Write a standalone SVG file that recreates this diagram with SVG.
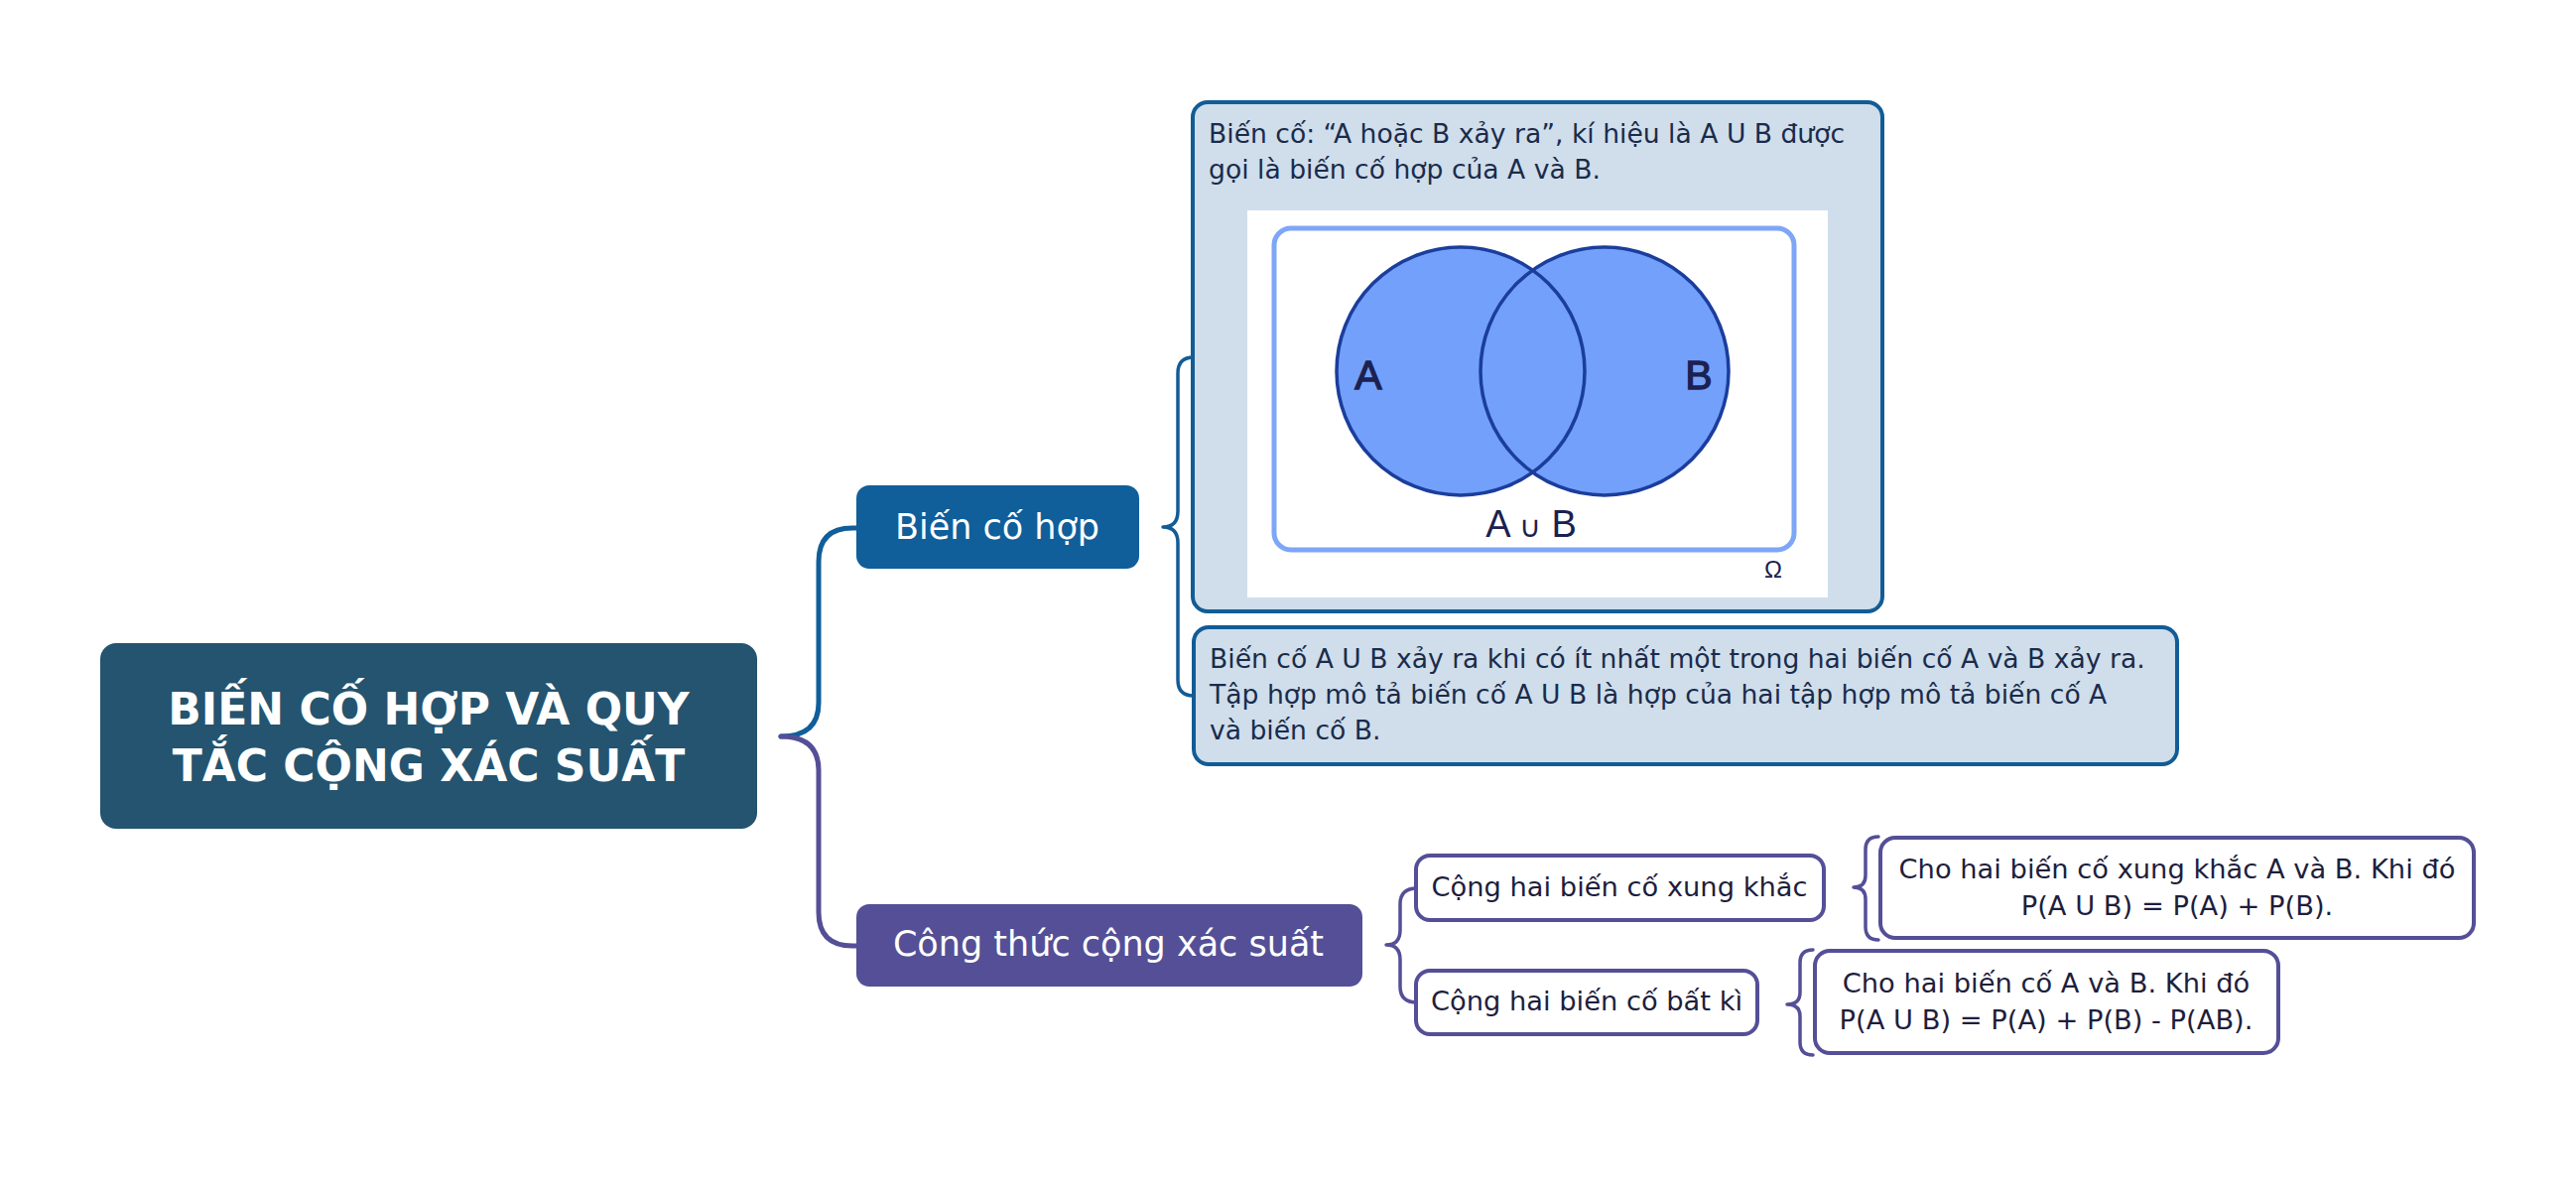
<svg xmlns="http://www.w3.org/2000/svg" width="2596" height="1201" viewBox="0 0 2596 1201">
<style>
  text { font-family: "DejaVu Sans", "Open Sans", sans-serif; }
  .root { font-weight: bold; font-size: 44px; fill: #ffffff; text-anchor: middle; }
  .lvl1 { font-size: 35px; fill: #ffffff; text-anchor: middle; }
  .body { font-size: 26.6px; fill: #1a2b4c; }
  .child { font-size: 27.3px; fill: #1e1e3c; text-anchor: middle; }
  .bluebox { fill: #cfdeea; stroke: #125c96; stroke-width: 4; }
  .purplebox { fill: #ffffff; stroke: #544f96; stroke-width: 4; }
  .blueline { fill: none; stroke: #105e9a; stroke-width: 5; stroke-linecap: round; }
  .purpleline { fill: none; stroke: #544f96; stroke-width: 5; stroke-linecap: round; }
  .bluebrace { fill: none; stroke: #125c96; stroke-width: 3.5; stroke-linecap: round; stroke-linejoin: round; }
  .purplebrace { fill: none; stroke: #544f96; stroke-width: 3.5; stroke-linecap: round; stroke-linejoin: round; }
  .venn { font-family: "Liberation Sans", Arial, sans-serif; fill: #1b2150; stroke: #1b2150; stroke-width: 1.3; text-anchor: middle; }
  .vennthin { font-family: "Liberation Sans", Arial, sans-serif; fill: #1b2150; text-anchor: middle; }
</style>
<rect x="0" y="0" width="2596" height="1201" fill="#ffffff"/>

<g id="connectors">
  <path class="blueline" d="M 787,742 Q 825,742 825,708 L 825,566 Q 825,532 859,532 L 866,532"/>
  <path class="purpleline" d="M 787,742 Q 825,742 825,776 L 825,919 Q 825,953 859,953 L 866,953"/>
  <path class="bluebrace" d="M 1203,360 Q 1187,360 1187,376 L 1187,515 Q 1187,531 1172,531 Q 1187,531 1187,547 L 1187,685 Q 1187,701 1203,701"/>
  <path class="purplebrace" d="M 1428,895 Q 1411,895 1411,911 L 1411,937 Q 1411,952 1397,952 Q 1411,952 1411,967 L 1411,994 Q 1411,1010 1428,1010"/>
  <path class="purplebrace" d="M 1893,843 Q 1880,843 1880,856 L 1880,882 Q 1880,894 1868,894 Q 1880,894 1880,906 L 1880,934 Q 1880,947 1893,947"/>
  <path class="purplebrace" d="M 1827,957 Q 1814,957 1814,970 L 1814,1000 Q 1814,1012 1801,1012 Q 1814,1012 1814,1024 L 1814,1050 Q 1814,1063 1827,1063"/>
</g>

<g id="root">
  <rect x="101" y="648" width="662" height="187" rx="16" fill="#24546f"/>
  <text class="root" x="432" y="730">BIẾN CỐ HỢP VÀ QUY</text>
  <text class="root" x="432" y="787">TẮC CỘNG XÁC SUẤT</text>
</g>

<g id="bien-co-hop">
  <rect x="863" y="489" width="285" height="84" rx="13" fill="#105e9a"/>
  <text class="lvl1" x="1005" y="543">Biến cố hợp</text>
</g>

<g id="cong-thuc">
  <rect x="863" y="911" width="510" height="83" rx="13" fill="#544f96"/>
  <text class="lvl1" x="1117" y="963">Công thức cộng xác suất</text>
</g>

<g id="dinh-nghia">
  <rect class="bluebox" x="1202" y="103" width="695" height="513" rx="15"/>
  <text class="body" x="1218" y="144">Biến cố: “A hoặc B xảy ra”, kí hiệu là A U B được</text>
  <text class="body" x="1218" y="180">gọi là biến cố hợp của A và B.</text>
  <rect x="1257" y="212" width="585" height="390" fill="#ffffff"/>
  <rect x="1284" y="230" width="524" height="324" rx="17" fill="none" stroke="#7ea6f7" stroke-width="5"/>
  <circle cx="1472" cy="374" r="125" fill="#72a0fb"/>
  <circle cx="1617" cy="374" r="125" fill="#72a0fb"/>
  <circle cx="1472" cy="374" r="125" fill="none" stroke="#1b3d9c" stroke-width="3.5"/>
  <circle cx="1617" cy="374" r="125" fill="none" stroke="#1b3d9c" stroke-width="3.5"/>
  <text class="venn" x="1379" y="392" font-size="41">A</text>
  <text class="venn" x="1712" y="392" font-size="41">B</text>
  <text class="vennthin" x="1543" y="541" font-size="38">A <tspan font-size="30">∪</tspan> B</text>
  <text class="vennthin" x="1787" y="582" font-size="24">Ω</text>
</g>

<g id="giai-thich">
  <rect class="bluebox" x="1203" y="632" width="991" height="138" rx="15"/>
  <text class="body" x="1219" y="673">Biến cố A U B xảy ra khi có ít nhất một trong hai biến cố A và B xảy ra.</text>
  <text class="body" x="1219" y="709">Tập hợp mô tả biến cố A U B là hợp của hai tập hợp mô tả biến cố A</text>
  <text class="body" x="1219" y="745">và biến cố B.</text>
</g>

<g id="xung-khac">
  <rect class="purplebox" x="1427" y="862" width="411" height="65" rx="14"/>
  <text class="child" x="1632" y="903">Cộng hai biến cố xung khắc</text>
</g>

<g id="bat-ki">
  <rect class="purplebox" x="1427" y="978" width="344" height="64" rx="14"/>
  <text class="child" x="1599" y="1018">Cộng hai biến cố bất kì</text>
</g>

<g id="cong-thuc-xung-khac">
  <rect class="purplebox" x="1895" y="844" width="598" height="101" rx="15"/>
  <text class="child" x="2194" y="885">Cho hai biến cố xung khắc A và B. Khi đó</text>
  <text class="child" x="2194" y="922">P(A U B) = P(A) + P(B).</text>
</g>

<g id="cong-thuc-bat-ki">
  <rect class="purplebox" x="1829" y="958" width="467" height="103" rx="15"/>
  <text class="child" x="2062" y="1000">Cho hai biến cố A và B. Khi đó</text>
  <text class="child" x="2062" y="1037">P(A U B) = P(A) + P(B) - P(AB).</text>
</g>
</svg>
